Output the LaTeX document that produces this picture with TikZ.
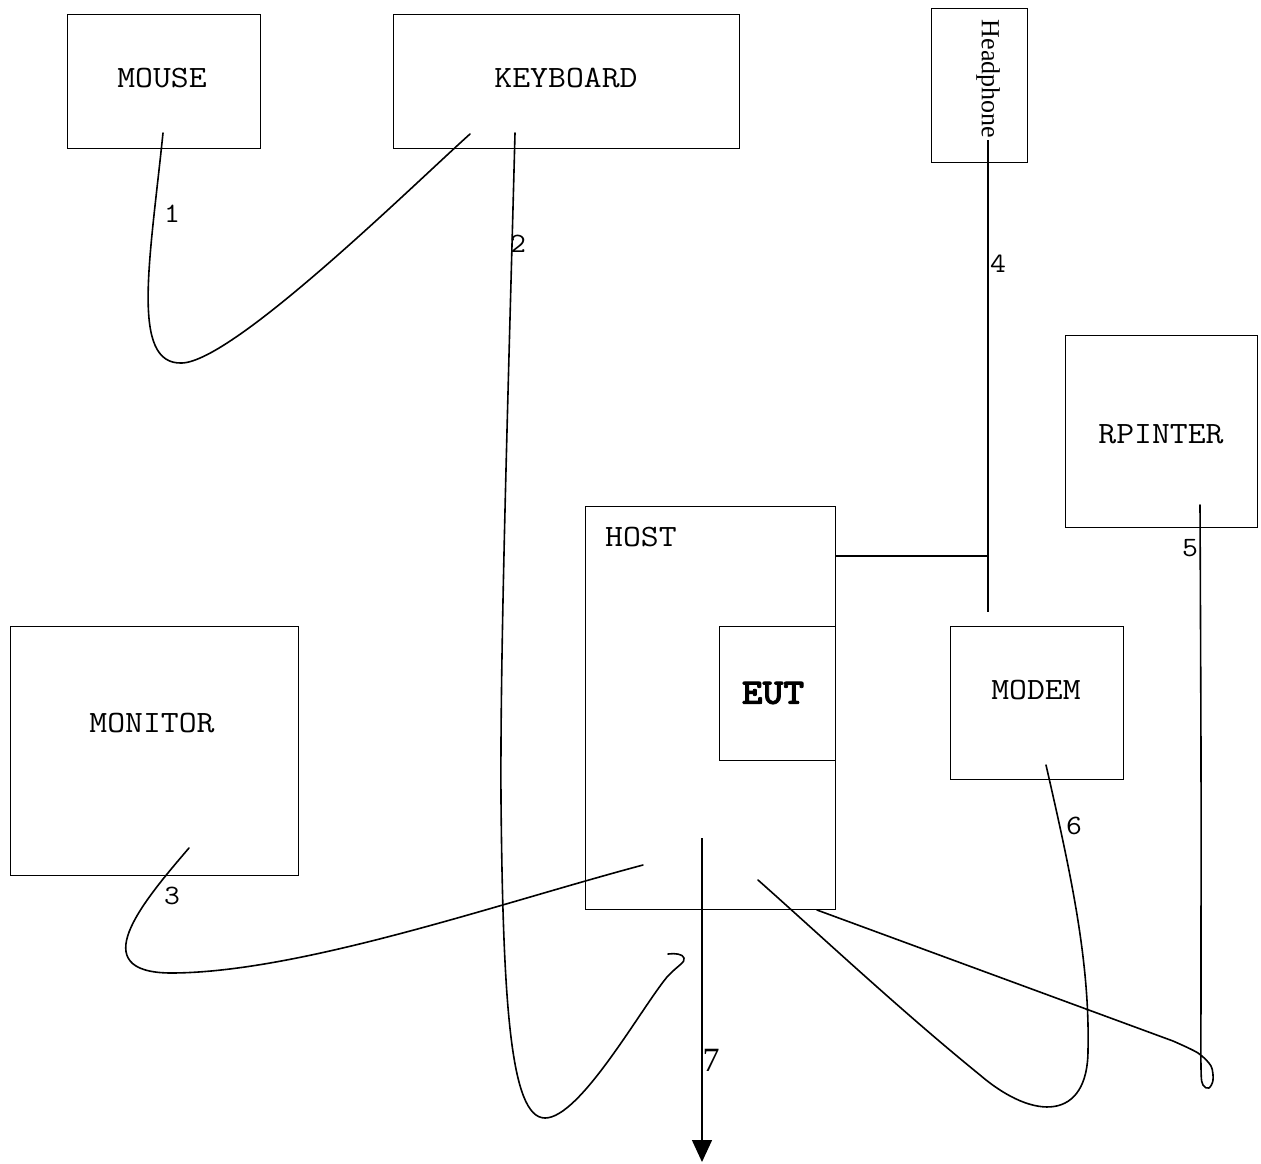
\documentclass[tikz,border=0pt]{standalone}
\usepackage{fontspec}
\newfontfamily\tms{Liberation Serif}
\newfontfamily\ttheavy[FakeBold=2]{lmmonolt10-bold.otf}
\usetikzlibrary{arrows.meta}
\begin{document}
\begin{tikzpicture}[x=1pt,y=-1pt,
  box/.style={draw,line width=1.4pt,inner sep=0pt,anchor=north west},
  lbl/.style={font=\ttfamily\fontsize{31}{31}\selectfont,inner sep=0pt,xscale=1.12},
  num/.style={font=\ttfamily\fontsize{28}{28}\selectfont,inner sep=0pt,xscale=1.1},
  cable/.style={line width=1.6pt,line cap=round,line join=round},
  wire/.style={line width=1.4pt}]
\useasboundingbox (0,0) rectangle (1261,1163);
% boxes
\node[box,minimum width=193pt,minimum height=134pt] (mouse) at (67,14) {};
\node[box,minimum width=346pt,minimum height=134pt] (keyboard) at (393,14) {};
\node[box,minimum width=96pt,minimum height=154pt] (headphone) at (931,8) {};
\node[box,minimum width=192pt,minimum height=192pt] (printer) at (1065,335) {};
\node[box,minimum width=250pt,minimum height=403pt] (host) at (585,506) {};
\node[box,minimum width=116pt,minimum height=134pt] (eut) at (719,626) {};
\node[box,minimum width=173pt,minimum height=153pt] (modem) at (950,626) {};
\node[box,minimum width=288pt,minimum height=249pt] (monitor) at (10,626) {};
% texts
\node[lbl] (tmouse) at (162,78) {MOUSE};
\node[lbl] (tkeyboard) at (566,78) {KEYBOARD};
\node[font=\tms\fontsize{26}{26}\selectfont,rotate=-90,inner sep=0pt] (thead) at (988,79) {Headphone};
\node[lbl] (tprinter) at (1161,434) {RPINTER};
\node[lbl,anchor=west] (thost) at (605,537) {HOST};
\node[font=\ttheavy\fontsize{36}{36}\selectfont,inner sep=0pt,xscale=1.1] (teut) at (773,693) {EUT};
\node[lbl] (tmodem) at (1036,690) {MODEM};
\node[lbl] (tmonitor) at (152,723) {MONITOR};
% numbers
\node[num] (n1) at (172,214) {1};
\node[num] (n2) at (518,244) {2};
\node[num] (n3) at (172,896) {3};
\node[num] (n4) at (998,264) {4};
\node[num] (n5) at (1190,548) {5};
\node[num] (n6) at (1074,826) {6};
\node[font=\tms\fontsize{34}{34}\selectfont,inner sep=0pt] (n7) at (711,1060) {7};
% cable end points
\coordinate (m1) at (163,133);
\coordinate (k1) at (470,134);
\coordinate (k2) at (515,133);
\coordinate (h2) at (668,954);
\coordinate (mo3) at (189,848);
\coordinate (h3) at (643,865);
\coordinate (hp4) at (988,140);
\coordinate (md4) at (988,612);
\coordinate (j4) at (988,556);
\coordinate (hr4) at (835,556);
\coordinate (p5) at (1200,505);
\coordinate (h5) at (817,910);
\coordinate (md6) at (1046,765);
\coordinate (h6) at (758,880);
\coordinate (h7) at (702,838);
\coordinate (e7) at (702,1162);
% cables
\draw[cable] (m1) .. controls (150,260) and (130,365) .. (182,363)
                  .. controls (234,361) and (410,188) .. (k1);
\draw[cable] (k2) .. controls (508,400) and (500,650) .. (501,800)
                  .. controls (503,1000) and (510,1118) .. (545,1118)
                  .. controls (580,1118) and (640,1010) .. (667,977)
                  .. controls (677,966) and (686,962) .. (684,958)
                  .. controls (683,954) and (675,953) .. (h2);
\draw[cable] (mo3) .. controls (140,905) and (85,972) .. (170,973)
                   .. controls (300,973) and (500,903) .. (h3);
\draw[wire] (hp4) -- (md4);
\draw[wire] (hr4) -- (j4);
\draw[cable] (md6) .. controls (1070,870) and (1090,960) .. (1088,1050)
                   .. controls (1088,1120) and (1035,1122) .. (980,1075)
                   .. controls (900,1010) and (820,935) .. (h6);
\draw[cable] plot[smooth,tension=0.5] coordinates {(p5) (1201,760) (1201,973) (1201,1068) (1203,1085) (1209,1088) (1213,1080) (1211,1066) (1198,1053) (1173,1041)} -- (h5);
\draw[wire,-{Triangle[length=22pt,width=20pt]}] (h7) -- (e7);
\end{tikzpicture}
\end{document}
